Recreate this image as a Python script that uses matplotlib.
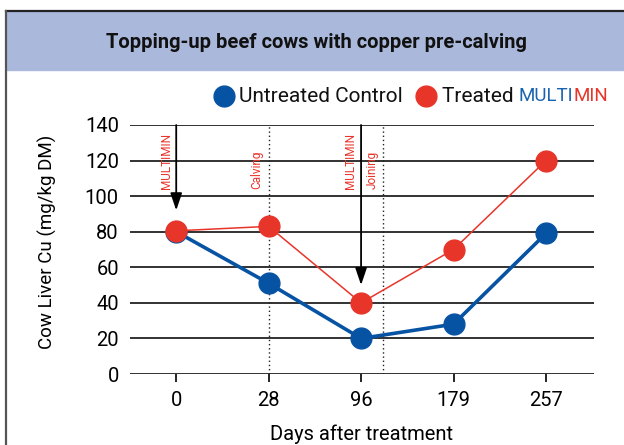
import matplotlib
matplotlib.use("Agg")
import matplotlib.pyplot as plt
from matplotlib.lines import Line2D
from matplotlib.patches import Rectangle

plt.rcParams['font.family'] = ['Roboto', 'DejaVu Sans']

days = ['0', '28', '96', '179', '257']
untreated = [80, 51, 20, 28, 79]
treated = [80.5, 83, 40, 70, 120]
yticks = [0, 20, 40, 60, 80, 100, 120, 140]

BLUE = '#0753a3'
RED = '#e8352a'

fig = plt.figure(figsize=(6.24, 4.45), dpi=100)

# frame and header band
W, H = 624, 445
fig.patches.append(Rectangle((7 / W, 1 - 70 / H), 1 - 7 / W, 59 / H,
                             transform=fig.transFigure, color='#aab8dc', zorder=0))
fig.add_artist(Line2D([6 / W, 1], [1 - 11 / H, 1 - 11 / H], color='#222222', lw=1.6))
fig.add_artist(Line2D([6 / W, 6 / W], [0, 1 - 11 / H], color='#555555', lw=1.6))
fig.text(316 / W, 1 - 42 / H, 'Topping-up beef cows with copper pre-calving',
         ha='center', va='center', fontsize=14.5, fontweight='bold', color='#111111')

ax = fig.add_axes([130 / W, 1 - 374 / H, 464 / W, 249 / H])
x = list(range(len(days)))

for y in yticks:
    ax.axhline(y, color='#222222', lw=1.3, zorder=1)

ax.axvline(1, color='#222222', lw=1, ls=(0, (1, 2)), zorder=1)
ax.axvline(2.24, color='#222222', lw=1, ls=(0, (1, 2)), zorder=1)

arrow = dict(arrowstyle='-|>,head_length=0.65,head_width=0.22',
             color='black', lw=1.3, mutation_scale=16, shrinkA=0, shrinkB=0)
ax.annotate('', xy=(0, 92), xytext=(0, 140), arrowprops=arrow)
ax.annotate('', xy=(2, 50), xytext=(2, 140), arrowprops=arrow)

for xp, label in [(-0.11, 'MULTIMIN'), (0.87, 'Calving'), (1.89, 'MULTIMIN'), (2.12, 'Joining')]:
    ax.text(xp, 104, label, rotation=90, ha='center', va='bottom', fontsize=8.5, color=RED)

ax.plot(x, untreated, color=BLUE, lw=2.6, marker='o', ms=15, zorder=3)
ax.plot(x, treated, color=RED, lw=1.1, marker='o', ms=15, zorder=4)

ax.set_xlim(-0.5, 4.52)
ax.set_ylim(0, 140)
ax.set_xticks(x)
ax.set_xticklabels(days)
ax.set_yticks(yticks)
ax.tick_params(axis='y', length=0, pad=8, labelsize=14.5)
ax.tick_params(axis='x', length=6, width=1.2, direction='out', pad=6, labelsize=14.5)
for s in ax.spines.values():
    s.set_visible(False)
ax.set_xlabel('Days after treatment', fontsize=14.5, labelpad=11)
ax.set_ylabel('Cow Liver Cu (mg/kg DM)', fontsize=13.5)
ax.yaxis.set_label_coords(-0.157, 0.53)

# legend
ly = 1 - 96 / H
fig.add_artist(Line2D([224 / W], [ly], marker='o', ms=15, color=BLUE, ls=''))
fig.text(239 / W, ly, 'Untreated Control', ha='left', va='center', fontsize=15, color='#111111')
fig.add_artist(Line2D([426 / W], [ly], marker='o', ms=15, color=RED, ls=''))
t1 = fig.text(442 / W, ly, 'Treated ', ha='left', va='center', fontsize=15, color='#111111')
fig.canvas.draw()
r = fig.canvas.get_renderer()
bb = t1.get_window_extent(r)
t2 = fig.text(bb.x1 / W, ly, 'MULTI', ha='left', va='center', fontsize=13.5, color='#1a63b0')
bb2 = t2.get_window_extent(r)
fig.text(bb2.x1 / W, ly, 'MIN', ha='left', va='center', fontsize=13.5, color=RED)

fig.savefig('out.png', dpi=100)
